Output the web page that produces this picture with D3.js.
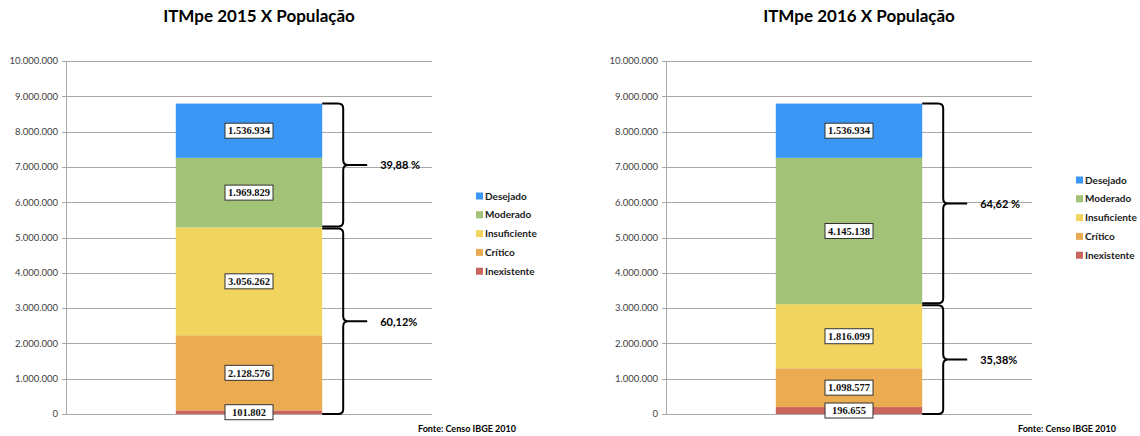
<!DOCTYPE html>
<html>
<head>
	<meta charset="utf-8">
	<style>
		body { margin: 0; background: #fff; }
		text { font-family: Lato, 'Open Sans', sans-serif; }
	</style>
</head>
<body>

	<div id="graph"></div>

	<script src="https://cdnjs.cloudflare.com/ajax/libs/d3/7.8.5/d3.min.js"></script>

	<script>
		const categorias = ['Inexistente', 'Crítico', 'Insuficiente', 'Moderado', 'Desejado'];
		const cores = ['#c9645e', '#ebab51', '#f0d45f', '#a2c277', '#3b97f5'];

		const pop2015 = [101802, 2128576, 3056262, 1969829, 1536934];
		const pop2016 = [196655, 1098577, 1816099, 4145138, 1536934];

		// chaves: [primeiro índice, último índice] de cada grupo
		const grupos = [[3, 4], [0, 2]];
		const chaves2015 = ['39,88 %', '60,12%'];
		const chaves2016 = ['64,62 %', '35,38%'];

		const titulos = ['ITMpe 2015 X População', 'ITMpe 2016 X População'];
		const fonte = 'Fonte: Censo IBGE 2010';
		const yMax = 10000000;

		const W = 1140;
		const H = 436;
		const margin = { left: 66, top: 61, right: 168, bottom: 22 };
		const w = 366;
		const h = 353;

		const locale = d3.formatLocale({ decimal: ',', thousands: '.', grouping: [3], currency: ['R$', ''] });
		const fmt = locale.format(',d');

		const svg = d3.select('#graph')
			.append('svg')
			.attr('width', W)
			.attr('height', H);

		const bracePath = (x0, xv, xt, y0, y1) => {
			const r = 5;
			const mid = (y0 + y1) / 2;
			const p = d3.path();
			p.moveTo(x0, y0);
			p.lineTo(xv - r, y0);
			p.quadraticCurveTo(xv, y0, xv, y0 + r);
			p.lineTo(xv, mid - r);
			p.quadraticCurveTo(xv, mid, xv + r, mid);
			p.lineTo(xt, mid);
			p.moveTo(xv + r, mid);
			p.quadraticCurveTo(xv, mid, xv, mid + r);
			p.lineTo(xv, y1 - r);
			p.quadraticCurveTo(xv, y1, xv - r, y1);
			p.lineTo(x0, y1);
			return p.toString();
		};

		const createChart = (dx, titulo, valores, chaves, legendTop) => {
			const root = svg.append('g').attr('transform', `translate(${dx}, 0)`);

			root.append('text')
				.attr('x', margin.left + w / 2 + 10)
				.attr('y', 22)
				.attr('text-anchor', 'middle')
				.style('font-size', '17px')
				.style('font-weight', 'bold')
				.style('fill', '#000')
				.text(titulo);

			const g = root.append('g')
				.attr('transform', `translate(${margin.left}, ${margin.top})`);

			const x = d3.scaleBand()
				.domain(['pop'])
				.range([0, w])
				.paddingInner(0.6)
				.paddingOuter(0.3);

			const y = d3.scaleLinear()
				.domain([0, yMax])
				.range([h, 0]);

			const ticks = y.ticks(10);

			g.selectAll('line.grid')
				.data(ticks)
				.enter()
				.append('line')
				.attr('class', 'grid')
				.attr('x1', -4)
				.attr('x2', w)
				.attr('y1', d => Math.round(y(d)) + 0.5)
				.attr('y2', d => Math.round(y(d)) + 0.5)
				.attr('stroke', '#a8a8a8')
				.attr('stroke-width', 1);

			g.append('line')
				.attr('x1', 0.5).attr('x2', 0.5)
				.attr('y1', 0).attr('y2', h)
				.attr('stroke', '#a8a8a8');

			g.selectAll('text.tick')
				.data(ticks)
				.enter()
				.append('text')
				.attr('class', 'tick')
				.attr('x', -8)
				.attr('y', d => y(d))
				.attr('dy', '0.35em')
				.attr('text-anchor', 'end')
				.style('font-size', '9.5px')
				.style('fill', '#404040')
				.text(d => fmt(d));

			const series = d3.stack()
				.keys(d3.range(valores.length))
				.value((d, k) => d[k])([valores]);

			const bx = x('pop');
			const bw = x.bandwidth();

			g.selectAll('rect.seg')
				.data(series)
				.enter()
				.append('rect')
				.attr('class', 'seg')
				.attr('x', bx)
				.attr('width', bw)
				.attr('y', d => y(d[0][1]))
				.attr('height', d => y(d[0][0]) - y(d[0][1]))
				.attr('fill', (d, i) => cores[i]);

			const lbl = g.selectAll('g.lbl')
				.data(series)
				.enter()
				.append('g')
				.attr('class', 'lbl')
				.attr('transform', d => `translate(${bx + bw / 2}, ${y((d[0][0] + d[0][1]) / 2)})`);

			lbl.append('rect')
				.attr('x', -24).attr('y', -7.5)
				.attr('width', 48).attr('height', 15)
				.attr('fill', '#fff')
				.attr('stroke', '#333')
				.attr('stroke-width', 1);

			lbl.append('text')
				.attr('text-anchor', 'middle')
				.attr('dy', '0.35em')
				.style('font-family', "'Liberation Serif', serif")
				.style('font-size', '10.5px')
				.style('font-weight', 'bold')
				.style('fill', '#111')
				.text((d, i) => fmt(valores[i]));

			// chaves
			const x0 = bx + bw;
			grupos.forEach((gr, i) => {
				const yTop = y(series[gr[1]][0][1]) + (i === 0 ? 0 : 1);
				const yBot = y(series[gr[0]][0][0]) - (i === 0 ? 1 : 0);
				g.append('path')
					.attr('d', bracePath(x0, x0 + 21, x0 + 45, yTop, yBot))
					.attr('fill', 'none')
					.attr('stroke', '#000')
					.attr('stroke-width', 2);
				g.append('text')
					.attr('x', x0 + 58)
					.attr('y', (yTop + yBot) / 2)
					.attr('dy', '0.4em')
					.style('font-size', '11px')
					.style('font-weight', 'bold')
					.style('fill', '#000')
					.text(chaves[i]);
			});

			// legenda
			const leg = root.selectAll('g.leg')
				.data(categorias.slice().reverse())
				.enter()
				.append('g')
				.attr('class', 'leg')
				.attr('transform', (d, i) => `translate(${margin.left + w + 44}, ${legendTop + i * 18.8})`);

			leg.append('rect')
				.attr('x', 0).attr('y', -3.5)
				.attr('width', 7).attr('height', 7)
				.attr('fill', d => cores[categorias.indexOf(d)]);

			leg.append('text')
				.attr('x', 9)
				.attr('dy', '0.35em')
				.style('font-size', '10px')
				.style('font-weight', 'bold')
				.style('fill', '#1a1a1a')
				.text(d => d);

			root.append('text')
				.attr('x', margin.left + w - 14)
				.attr('y', 432)
				.style('font-size', '9px')
				.style('font-weight', 'bold')
				.style('fill', '#000')
				.text(fonte);
		};

		createChart(0, titulos[0], pop2015, chaves2015, 196);
		createChart(600, titulos[1], pop2016, chaves2016, 180);
	</script>

</body>
</html>
